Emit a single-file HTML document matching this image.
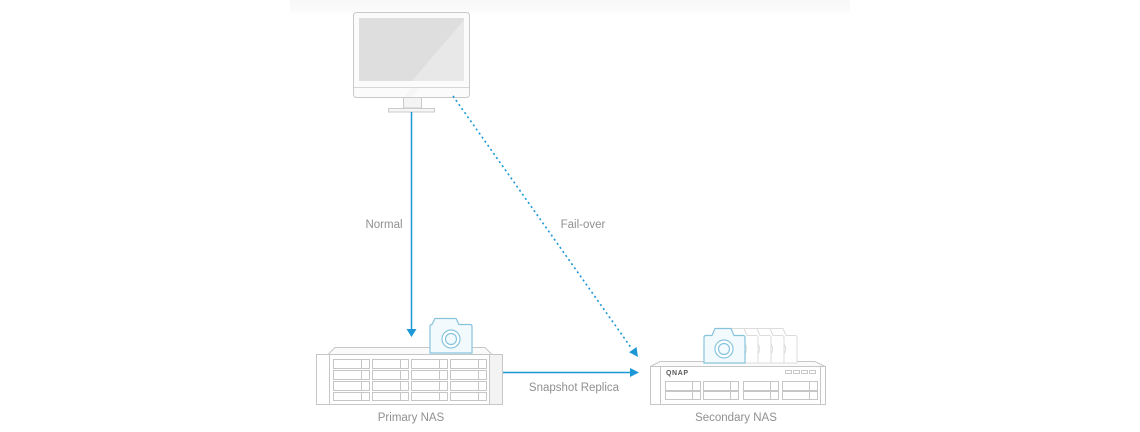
<!DOCTYPE html>
<html>
<head>
<meta charset="utf-8">
<style>
  html,body{margin:0;padding:0;background:#fff;}
  body{width:1140px;height:432px;overflow:hidden;}
  svg{display:block;}
  text{font-family:"Liberation Sans",sans-serif;font-size:11.5px;fill:#909090;}
</style>
</head>
<body>
<svg width="1140" height="432" viewBox="0 0 1140 432" xmlns="http://www.w3.org/2000/svg">
  <defs>
    <linearGradient id="band" x1="0" y1="0" x2="0" y2="1">
      <stop offset="0" stop-color="#f7f7f7"/>
      <stop offset="1" stop-color="#fcfcfc"/>
    </linearGradient>
  </defs>
  <!-- top faint band -->
  <rect x="290" y="0" width="560" height="13" fill="url(#band)"/>

  <!-- Monitor -->
  <rect x="353.5" y="12.5" width="116" height="85" rx="3" fill="#fbfbfb" stroke="#c9c9c9"/>
  <rect x="359" y="18" width="105" height="63" fill="#dedede"/>
  <polygon points="412,81 464,20 464,81" fill="#e8e8e8"/>
  <line x1="354" y1="87.5" x2="469" y2="87.5" stroke="#d6d6d6"/>
  <polygon points="404,97 412,88 420,88 412,97" fill="#f6f6f6"/>
  <rect x="403.5" y="97.5" width="18" height="10.5" fill="#f4f4f4" stroke="#cbcbcb"/>
  <rect x="388.5" y="108.5" width="46" height="3.5" fill="#f6f6f6" stroke="#cbcbcb"/>

  <!-- Normal arrow -->
  <line x1="411.5" y1="112" x2="411.5" y2="331" stroke="#1b98d5" stroke-width="1.5"/>
  <polygon points="406.5,329 416.5,329 411.5,337" fill="#1b98d5"/>

  <!-- Fail-over dotted arrow -->
  <line x1="453" y1="96" x2="632" y2="349" stroke="#1b98d5" stroke-width="1.6" stroke-dasharray="2 3"/>
  <polygon points="638,357 636.5,347 629.1,352.2" fill="#1b98d5"/>

  <!-- Snapshot replica arrow -->
  <line x1="503" y1="372.5" x2="632" y2="372.5" stroke="#1b98d5" stroke-width="1.5"/>
  <polygon points="639,372.5 630,368 630,377" fill="#1b98d5"/>

  <!-- Labels -->
  <text x="384" y="228" text-anchor="middle">Normal</text>
  <text x="583" y="228" text-anchor="middle">Fail-over</text>
  <text x="574" y="391" text-anchor="middle">Snapshot Replica</text>
  <text x="411" y="421" text-anchor="middle">Primary NAS</text>
  <text x="736" y="421" text-anchor="middle">Secondary NAS</text>

  <!-- Primary NAS -->
  <g stroke="#c6c6c6" fill="none">
    <polygon points="328,354.5 335,347.5 485,347.5 492,354.5" fill="#fafafa"/>
    <rect x="316.5" y="354.5" width="186" height="50" fill="#fff"/>
    <rect x="490" y="355" width="12" height="49" fill="#f3f3f3" stroke="none"/>
    <line x1="329.5" y1="355" x2="329.5" y2="404"/>
    <line x1="489.5" y1="355" x2="489.5" y2="404"/>
    <g>
      <rect x="333.5" y="359.5" width="36" height="9"/><line x1="361.5" y1="359.5" x2="361.5" y2="368.5"/>
      <rect x="372.5" y="359.5" width="36" height="9"/><line x1="400.5" y1="359.5" x2="400.5" y2="368.5"/>
      <rect x="411.5" y="359.5" width="36" height="9"/><line x1="439.5" y1="359.5" x2="439.5" y2="368.5"/>
      <rect x="450.5" y="359.5" width="36" height="9"/><line x1="478.5" y1="359.5" x2="478.5" y2="368.5"/>

      <rect x="333.5" y="370.5" width="36" height="9"/><line x1="361.5" y1="370.5" x2="361.5" y2="379.5"/>
      <rect x="372.5" y="370.5" width="36" height="9"/><line x1="400.5" y1="370.5" x2="400.5" y2="379.5"/>
      <rect x="411.5" y="370.5" width="36" height="9"/><line x1="439.5" y1="370.5" x2="439.5" y2="379.5"/>
      <rect x="450.5" y="370.5" width="36" height="9"/><line x1="478.5" y1="370.5" x2="478.5" y2="379.5"/>

      <rect x="333.5" y="381.5" width="36" height="9"/><line x1="361.5" y1="381.5" x2="361.5" y2="390.5"/>
      <rect x="372.5" y="381.5" width="36" height="9"/><line x1="400.5" y1="381.5" x2="400.5" y2="390.5"/>
      <rect x="411.5" y="381.5" width="36" height="9"/><line x1="439.5" y1="381.5" x2="439.5" y2="390.5"/>
      <rect x="450.5" y="381.5" width="36" height="9"/><line x1="478.5" y1="381.5" x2="478.5" y2="390.5"/>

      <rect x="333.5" y="392.5" width="36" height="8"/><line x1="361.5" y1="392.5" x2="361.5" y2="400.5"/>
      <rect x="372.5" y="392.5" width="36" height="8"/><line x1="400.5" y1="392.5" x2="400.5" y2="400.5"/>
      <rect x="411.5" y="392.5" width="36" height="8"/><line x1="439.5" y1="392.5" x2="439.5" y2="400.5"/>
      <rect x="450.5" y="392.5" width="36" height="8"/><line x1="478.5" y1="392.5" x2="478.5" y2="400.5"/>
    </g>
  </g>

  <!-- Primary camera -->
  <g stroke="#86c4dc" stroke-width="1.2" fill="#f3fafd">
    <path d="M432,324.5 L435,318.5 L456,318.5 L459,324.5 L470,324.5 Q472,324.5 472,326.5 L472,353 L430,353 L430,326.5 Q430,324.5 432,324.5 Z"/>
    <circle cx="451" cy="339" r="9" fill="#fff"/>
    <circle cx="451" cy="339" r="5.5"/>
  </g>

  <!-- Secondary NAS -->
  <g stroke="#c6c6c6" fill="none">
    <polygon points="650.5,366.5 660,361.5 815,361.5 825,366.5" fill="#fafafa"/>
    <rect x="650.5" y="366.5" width="175" height="38" fill="#fff"/>
    <line x1="660.5" y1="367" x2="660.5" y2="404"/>
    <line x1="820.5" y1="367" x2="820.5" y2="404"/>
    <rect x="785.5" y="370.5" width="6" height="3"/>
    <rect x="793.5" y="370.5" width="6" height="3"/>
    <rect x="801.5" y="370.5" width="6" height="3"/>
    <rect x="809.5" y="370.5" width="6" height="3"/>
    <rect x="665.5" y="381.5" width="35" height="9"/><line x1="692.5" y1="381.5" x2="692.5" y2="390.5"/>
    <rect x="703.5" y="381.5" width="35" height="9"/><line x1="730.5" y1="381.5" x2="730.5" y2="390.5"/>
    <rect x="743.5" y="381.5" width="35" height="9"/><line x1="770.5" y1="381.5" x2="770.5" y2="390.5"/>
    <rect x="782.5" y="381.5" width="35" height="9"/><line x1="809.5" y1="381.5" x2="809.5" y2="390.5"/>
    <rect x="665.5" y="391.5" width="35" height="8"/><line x1="692.5" y1="391.5" x2="692.5" y2="399.5"/>
    <rect x="703.5" y="391.5" width="35" height="8"/><line x1="730.5" y1="391.5" x2="730.5" y2="399.5"/>
    <rect x="743.5" y="391.5" width="35" height="8"/><line x1="770.5" y1="391.5" x2="770.5" y2="399.5"/>
    <rect x="782.5" y="391.5" width="35" height="8"/><line x1="809.5" y1="391.5" x2="809.5" y2="399.5"/>
  </g>
  <text x="666" y="375" style="font-size:7px;font-weight:bold;fill:#5a5a5a;letter-spacing:0.6px;">QNAP</text>

  <!-- Ghost cameras (back to front) -->
  <g stroke="#dcdcdc" stroke-width="1" fill="#fff">
    <g transform="translate(52,0)">
      <path d="M706,335.5 L712,335.5 L715,328.5 L731,328.5 L734,335.5 L743,335.5 Q745,335.5 745,337.5 L745,363 L704,363 L704,337.5 Q704,335.5 706,335.5 Z"/>
      <circle cx="724.5" cy="349" r="9"/>
    </g>
    <g transform="translate(39,0)">
      <path d="M706,335.5 L712,335.5 L715,328.5 L731,328.5 L734,335.5 L743,335.5 Q745,335.5 745,337.5 L745,363 L704,363 L704,337.5 Q704,335.5 706,335.5 Z"/>
      <circle cx="724.5" cy="349" r="9"/>
    </g>
    <g transform="translate(26,0)">
      <path d="M706,335.5 L712,335.5 L715,328.5 L731,328.5 L734,335.5 L743,335.5 Q745,335.5 745,337.5 L745,363 L704,363 L704,337.5 Q704,335.5 706,335.5 Z"/>
      <circle cx="724.5" cy="349" r="9"/>
    </g>
    <g transform="translate(13,0)">
      <path d="M706,335.5 L712,335.5 L715,328.5 L731,328.5 L734,335.5 L743,335.5 Q745,335.5 745,337.5 L745,363 L704,363 L704,337.5 Q704,335.5 706,335.5 Z"/>
      <circle cx="724.5" cy="349" r="9"/>
    </g>
  </g>
  <!-- Front secondary camera -->
  <g stroke="#86c4dc" stroke-width="1.2" fill="#f3fafd">
    <path d="M706,335.5 L712,335.5 L715,328.5 L731,328.5 L734,335.5 L743,335.5 Q745,335.5 745,337.5 L745,363 L704,363 L704,337.5 Q704,335.5 706,335.5 Z"/>
    <circle cx="724" cy="349" r="9" fill="#fff"/>
    <circle cx="724" cy="349" r="5.5"/>
  </g>
</svg>
</body>
</html>
